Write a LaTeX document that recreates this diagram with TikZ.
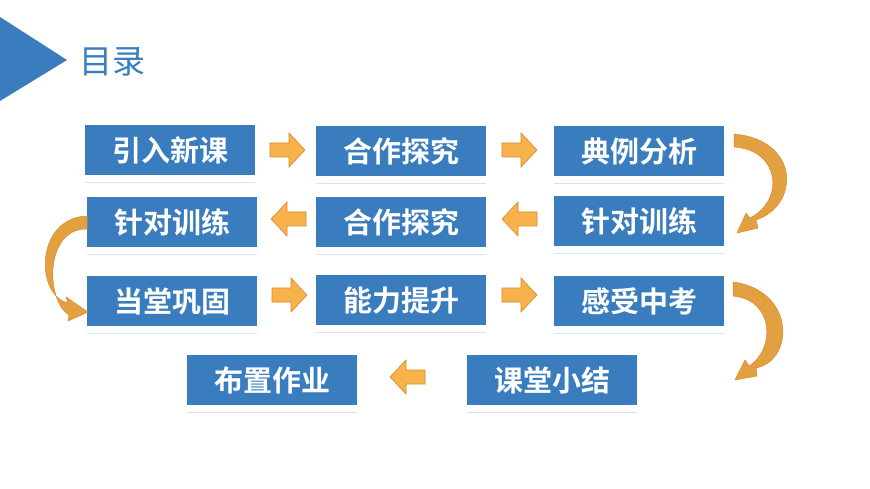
\documentclass[tikz,border=0pt]{standalone}
\usepackage{fontspec}
\newfontfamily\cjk{Noto Sans CJK SC}[BoldFont={Noto Sans CJK SC Bold}]
\definecolor{boxblue}{HTML}{3A7DBE}
\definecolor{arrfill}{HTML}{F7B24C}
\definecolor{arrline}{HTML}{D98B2B}
\definecolor{curvefill}{HTML}{E3A040}
\tikzset{
  stepbox/.style={fill=boxblue, minimum width=170pt, minimum height=50pt, inner sep=0pt, text=white, font=\cjk\bfseries\fontsize{29}{30}\selectfont},
  blockarr/.style={fill=arrfill, draw=arrline, line width=0.6pt, line join=miter},
  curvearr/.style={fill=curvefill, draw=arrline, line width=0.5pt}
}
\begin{document}
\begin{tikzpicture}[x=1pt,y=-1pt]
\useasboundingbox[fill=white] (0,0) rectangle (870,489);
% title
\fill[boxblue] (0,17) -- (67,60) -- (0,101) -- cycle;
\node[anchor=west, text=boxblue, font=\cjk\fontsize{33}{34}\selectfont, inner sep=0pt] (title) at (79,62) {目录};
% boxes
\newcommand\mkbox[4]{%
  \node[stepbox, anchor=north west] (#1) at (#2,#3) {\raisebox{3pt}{#4}};
  \draw[white!80!boxblue, line width=1pt] ([yshift=-7pt]#1.south west) -- ([yshift=-7pt]#1.south east);
}
\mkbox{a}{85}{125}{引入新课}
\mkbox{b}{316}{126}{合作探究}
\mkbox{c}{554}{126}{典例分析}
\mkbox{d}{554}{196}{针对训练}
\mkbox{e}{316}{197}{合作探究}
\mkbox{f}{87}{197}{针对训练}
\mkbox{g}{87}{276}{当堂巩固}
\mkbox{h}{316}{275}{能力提升}
\mkbox{i}{554}{276}{感受中考}
\mkbox{j}{467}{355}{课堂小结}
\mkbox{k}{187}{355}{布置作业}
% right block arrows
\newcommand\rarr[2]{%
  \draw[blockarr] (#1,#2-7) -- (#1+19,#2-7) -- (#1+19,#2-17) -- (#1+35,#2) -- (#1+19,#2+17) -- (#1+19,#2+7) -- (#1,#2+7) -- cycle;}
\newcommand\larr[2]{%
  \draw[blockarr] (#1+35,#2-7) -- (#1+16,#2-7) -- (#1+16,#2-17) -- (#1,#2) -- (#1+16,#2+17) -- (#1+16,#2+7) -- (#1+35,#2+7) -- cycle;}
\rarr{270}{150}
\rarr{502}{150}
\larr{502}{219}
\larr{271}{219}
\rarr{272}{295}
\rarr{502}{295}
\larr{390}{377}
% curved arrows
\draw[curvearr] (734,134) .. controls (800,140) and (800,205) .. (756,220)
  -- (758,228) -- (737,233) -- (746,213) -- (750,218)
  .. controls (785,200) and (780,150) .. (734,147) -- cycle;
\draw[curvearr] (733,282) .. controls (795,290) and (795,360) .. (756,368)
  -- (757,376) -- (735,380) -- (745,360) -- (749,366)
  .. controls (775,350) and (775,300) .. (733,296) -- cycle;
\draw[curvearr] (87,216) .. controls (35,218) and (35,295) .. (68,303)
  -- (66,297) -- (88,312) -- (68,321) -- (69,315)
  .. controls (45,300) and (45,228) .. (87,229) -- cycle;
\end{tikzpicture}
\end{document}
